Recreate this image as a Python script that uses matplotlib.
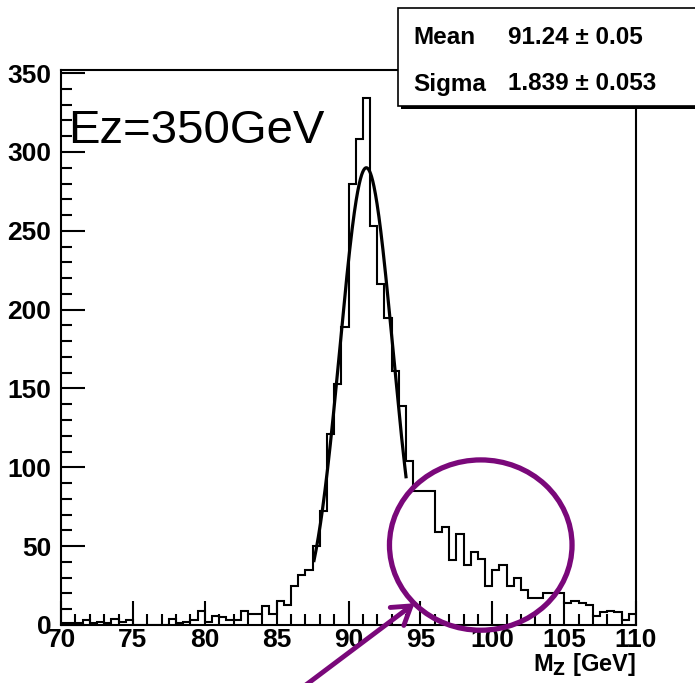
import numpy as np
import matplotlib
matplotlib.use("Agg")
import matplotlib.pyplot as plt
from matplotlib.patches import Ellipse, Rectangle
from matplotlib.ticker import MultipleLocator

# histogram of reconstructed Z mass, 0.5 GeV bins from 70 to 110
bin_edges = np.arange(70.0, 110.01, 0.5)
counts = [
    1, 1, 1, 3, 1, 2, 1, 4, 2, 3,            # 70 - 75
    0, 0, 0, 0, 0, 4, 1, 2, 3, 9,            # 75 - 80
    2, 6, 5, 3, 3, 9, 7, 7, 12, 7,           # 80 - 85
    15, 13, 25, 32, 35, 50, 72, 121, 153, 189,   # 85 - 90
    280, 308, 334, 253, 216, 195, 161, 139, 104, 85,  # 90 - 95
    85, 85, 59, 62, 41, 58, 38, 46, 42, 25,  # 95 - 100
    35, 38, 25, 30, 22, 17, 17, 20, 20, 20,  # 100 - 105
    14, 15, 14, 13, 6, 8, 9, 8, 3, 7,        # 105 - 110
]

# gaussian fit results
fit_mean = 91.24
fit_mean_err = 0.05
fit_sigma = 1.839
fit_sigma_err = 0.053
fit_amp = 290
fit_range = (87.6, 94.0)

purple = "#7a087a"
W, H = 695, 683

fig = plt.figure(figsize=(W / 100, H / 100), dpi=100)
ax = fig.add_axes([61 / W, 1 - 625 / H, (636 - 61) / W, (625 - 70) / H])

ax.stairs(counts, bin_edges, color="black", lw=1.5, baseline=0)

xf = np.linspace(fit_range[0], fit_range[1], 300)
yf = fit_amp * np.exp(-0.5 * ((xf - fit_mean) / fit_sigma) ** 2)
ax.plot(xf, yf, color="black", lw=2.3)

ax.set_xlim(70, 110)
ax.set_ylim(0, 352)
ax.xaxis.set_major_locator(MultipleLocator(5))
ax.xaxis.set_minor_locator(MultipleLocator(1))
ax.yaxis.set_major_locator(MultipleLocator(50))
ax.yaxis.set_minor_locator(MultipleLocator(10))
ax.tick_params(which="major", direction="in", length=17, width=1.5,
               top=False, right=False, labelsize=19)
ax.tick_params(which="minor", direction="in", length=8, width=1.5,
               top=False, right=False)
ax.tick_params(axis="x", which="major", pad=2)
ax.tick_params(axis="y", which="major", pad=7)
for lab in ax.get_xticklabels() + ax.get_yticklabels():
    lab.set_fontfamily("Liberation Sans")
    lab.set_fontweight("bold")
for s in ax.spines.values():
    s.set_linewidth(1.5)

fig.text(636 / W, 1 - 664 / H, r"M$_{\mathbf{Z}}$ [GeV]", ha="right", va="center",
         fontsize=17, fontweight="bold", family="Liberation Sans")

fig.text(68 / W, 1 - 143 / H, "Ez=350GeV", ha="left", va="baseline",
         fontsize=34, family="Liberation Sans")

# purple highlight
ax.add_patch(Ellipse((99.2, 50.7), 12.7, 108, fill=False, ec=purple,
                     lw=3.8, clip_on=False, zorder=5))
ax.annotate("", xy=(94.6, 13.8), xytext=(86.6, -41),
            arrowprops=dict(arrowstyle="->,head_length=0.7,head_width=0.45",
                            color=purple, lw=3.5, mutation_scale=18,
                            shrinkA=0, shrinkB=0),
            annotation_clip=False, zorder=5)

# stats box
fig.patches.append(Rectangle((401 / W, 1 - 109 / H), 300 / W, 101 / H,
                             transform=fig.transFigure, fc="black", ec="none", zorder=9))
fig.patches.append(Rectangle((398 / W, 1 - 106 / H), 300 / W, 98 / H,
                             transform=fig.transFigure, fc="white", ec="black",
                             lw=1.2, zorder=10))
box_font = dict(fontsize=17.5, fontweight="bold", family="Liberation Sans",
                va="center", zorder=11)
fig.text(413 / W, 1 - 37 / H, "Mean", **box_font)
fig.text(508 / W, 1 - 37 / H, f"{fit_mean:.2f} \u00b1 {fit_mean_err:.2f}", **box_font)
fig.text(413 / W, 1 - 84 / H, "Sigma", **box_font)
fig.text(508 / W, 1 - 84 / H, f"{fit_sigma:.3f} \u00b1 {fit_sigma_err:.3f}", **box_font)

fig.savefig("out.png", dpi=100)
